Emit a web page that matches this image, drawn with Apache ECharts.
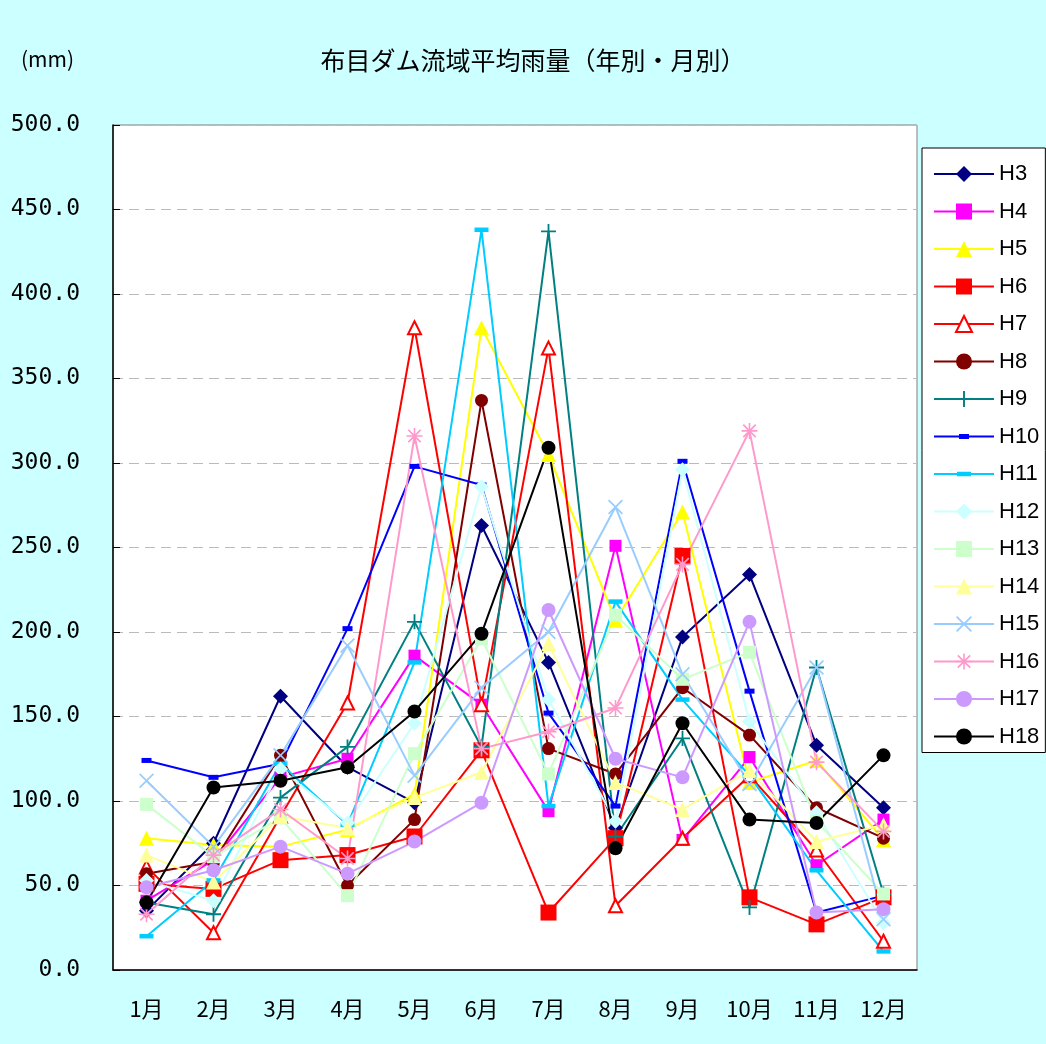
<!DOCTYPE html>
<html><head><meta charset="utf-8">
<script src="https://cdn.jsdelivr.net/npm/echarts@6/dist/echarts.min.js"></script>
<style>html,body{margin:0;padding:0;background:#CCFFFF;}#c{width:1046px;height:1044px;}</style>
</head><body><div id="c"></div>
<script>
const months = ['1月','2月','3月','4月','5月','6月','7月','8月','9月','10月','11月','12月'];
const H3  = [35, 75, 162, 120, 99, 263, 182, 84, 197, 234, 133, 96];
const H4  = [41, 65, 114, 125, 186, 157, 94, 251, 77, 126, 62, 89];
const H5  = [78, 74, 73, 83, 104, 380, 305, 207, 271, 111, 124, 77];
const H6  = [51, 48, 65, 68, 79, 130, 34, 78, 245, 43, 27, 43];
const H7  = [61, 22, 91, 158, 380, 157, 368, 38, 78, 115, 71, 17];
const H8  = [57, 64, 127, 50, 89, 337, 131, 116, 167, 139, 96, 78];
const H9  = [40, 33, 102, 132, 206, 132, 437, 79, 137, 37, 179, 45];
const H10 = [124, 114, 122, 202, 298, 287, 152, 97, 301, 165, 34, 44];
const H11 = [20, 53, 122, 86, 182, 438, 97, 218, 160, 115, 59, 11];
const H12 = [53, 41, 119, 87, 146, 286, 160, 88, 296, 147, 93, 28];
const H13 = [98, 67, 90, 44, 128, 196, 116, 210, 172, 188, 88, 45];
const H14 = [68, 52, 91, 84, 102, 117, 193, 111, 95, 118, 76, 86];
const H15 = [112, 73, 127, 192, 115, 167, 200, 274, 175, 110, 179, 30];
const H16 = [33, 68, 95, 66, 316, 131, 141, 155, 240, 319, 123, 82];
const H17 = [49, 59, 73, 57, 76, 99, 213, 125, 114, 206, 34, 36];
const H18 = [40, 108, 112, 120, 153, 199, 309, 72, 146, 89, 87, 127];

const PLUS = 'path://M8.8,0H11.2V8.8H20V11.2H11.2V20H8.8V11.2H0V8.8H8.8Z';
const XSYM = 'path://M0,1.6L1.6,0L10,8.4L18.4,0L20,1.6L11.6,10L20,18.4L18.4,20L10,11.6L1.6,20L0,18.4L8.4,10Z';
const AST = 'path://M9,0H11V9H20V11H11V20H9V11H0V9H9Z M1.5,3L3,1.5L10,8.5L17,1.5L18.5,3L11.5,10L18.5,17L17,18.5L10,11.5L3,18.5L1.5,17L8.5,10Z';
const DASH1 = 'path://M0,0H20V10H0Z';
const DASH2 = 'path://M0,0H28V9H0Z';
const LEG10 = 'path://M0,0L0.01,0M60,20L59.99,20M0,9H60V11H0ZM25,7.5H35V12.5H25Z';
const LEG11 = 'path://M0,0L0.01,0M60,20L59.99,20M0,9H60V11H0ZM23,7.8H37V12.2H23Z';

function s(name, data, color, symbol, size, extra) {
  const o = {
    name: name, type: 'line', data: data, symbol: symbol, symbolSize: size,
    lineStyle: {color: color, width: 2},
    itemStyle: {color: color},
    animation: false, z: 2
  };
  return Object.assign(o, extra || {});
}

const series = [
  s('H3', H3, '#000080', 'diamond', 15),
  s('H4', H4, '#FF00FF', 'rect', 12),
  s('H5', H5, '#FFFF00', 'triangle', 15),
  s('H6', H6, '#FF0000', 'rect', 16),
  s('H7', H7, '#FF0000', 'triangle', 13, {itemStyle: {color: '#FFFFFF', borderColor: '#FF0000', borderWidth: 2}}),
  s('H8', H8, '#800000', 'circle', 13),
  s('H9', H9, '#008080', PLUS, 15),
  s('H10', H10, '#0000FF', DASH1, 10, {symbolKeepAspect: true}),
  s('H11', H11, '#00CCFF', DASH2, 14, {symbolKeepAspect: true}),
  s('H12', H12, '#CCFFFF', 'diamond', 15),
  s('H13', H13, '#CCFFCC', 'rect', 13),
  s('H14', H14, '#FFFF99', 'triangle', 15),
  s('H15', H15, '#99CCFF', XSYM, 15),
  s('H16', H16, '#FF99CC', AST, 16),
  s('H17', H17, '#CC99FF', 'circle', 14),
  s('H18', H18, '#000000', 'circle', 14)
];

const legendData = series.map(x => {
  if (x.name === 'H10') return {name: 'H10', icon: LEG10};
  if (x.name === 'H11') return {name: 'H11', icon: LEG11};
  return {name: x.name};
});

const chart = echarts.init(document.getElementById('c'));
chart.setOption({
  backgroundColor: '#CCFFFF',
  animation: false,
  title: {
    text: '布目ダム流域平均雨量（年別・月別）',
    left: 528, top: 43, textAlign: 'center',
    textStyle: {fontFamily: 'Noto Sans CJK JP', fontSize: 25, fontWeight: 'normal', color: '#000'}
  },
  graphic: [{
    type: 'text', left: 21, top: 49,
    style: {text: '(mm)', fontFamily: 'Noto Sans CJK JP', fontSize: 21, fill: '#000'}
  }],
  grid: {left: 113, right: 129, top: 125, bottom: 74, show: true, backgroundColor: '#FFFFFF', borderColor: '#808080', borderWidth: 1},
  legend: {
    orient: 'vertical', left: 922, top: 148,
    padding: [15, 6, 5, 11],
    itemWidth: 60, itemHeight: 20, itemGap: 15.5,
    backgroundColor: '#FFFFFF', borderColor: '#000000', borderWidth: 1,
    textStyle: {fontFamily: 'Liberation Sans', fontSize: 22, color: '#000', lineHeight: 22},
    data: legendData
  },
  xAxis: {
    type: 'category', data: months, boundaryGap: true,
    axisLine: {lineStyle: {color: '#000', width: 1.5}},
    axisTick: {inside: true, length: 12, lineStyle: {color: '#666', width: 1.5}},
    axisLabel: {fontFamily: 'Noto Sans CJK JP', fontSize: 22, color: '#000', margin: 28}
  },
  yAxis: {
    type: 'value', min: 0, max: 500, interval: 50,
    axisLine: {show: true, lineStyle: {color: '#000', width: 1.5}},
    axisTick: {show: true, inside: true, length: 7, lineStyle: {color: '#000'}},
    axisLabel: {fontFamily: 'DejaVu Sans Mono', fontSize: 23, color: '#000', margin: 33, formatter: v => v.toFixed(1)},
    splitLine: {lineStyle: {color: '#BBBBBB', type: [10, 6], width: 1}}
  },
  series: series
});
</script></body></html>
